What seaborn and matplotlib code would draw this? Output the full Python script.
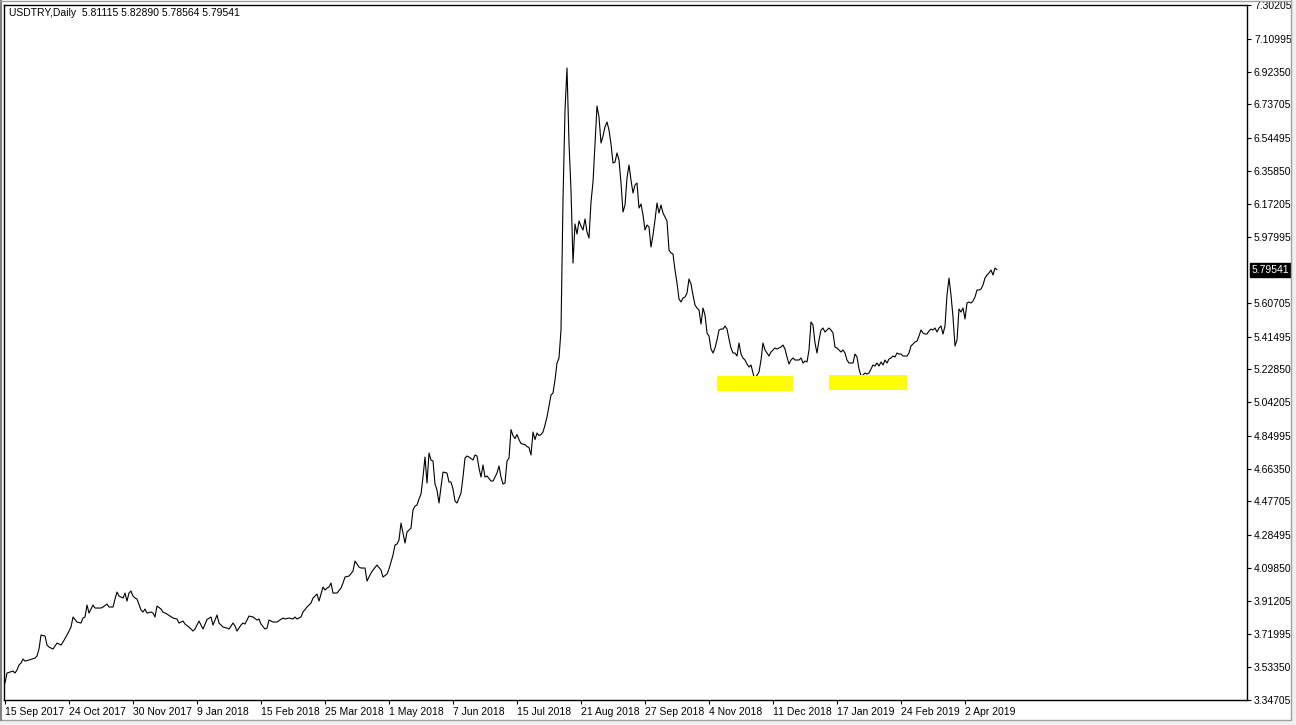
import matplotlib
matplotlib.use("Agg")
import pandas as pd
import matplotlib.pyplot as plt
import matplotlib.transforms as mtransforms
from matplotlib.patches import Rectangle
import seaborn as sns

# ── data ─────────────────────────────────────────────────────────────────────
SYMBOL = "USDTRY,Daily"
LAST_OHLC = ["5.81115", "5.82890", "5.78564", "5.79541"]
LAST_CLOSE = 5.79541

date_labels = ["15 Sep 2017", "24 Oct 2017", "30 Nov 2017", "9 Jan 2018",
               "15 Feb 2018", "25 Mar 2018", "1 May 2018", "7 Jun 2018",
               "15 Jul 2018", "21 Aug 2018", "27 Sep 2018", "4 Nov 2018",
               "11 Dec 2018", "17 Jan 2019", "24 Feb 2019", "2 Apr 2019"]
date_bars = [0, 32, 64, 96, 128, 160, 192, 224, 256, 288, 320, 352, 384, 416, 448, 480]

price_ticks = [7.30205, 7.10995, 6.92350, 6.73705, 6.54495, 6.35850, 6.17205,
               5.97995, 5.60705, 5.41495, 5.22850, 5.04205, 4.84995, 4.66350,
               4.47705, 4.28495, 4.09850, 3.91205, 3.71995, 3.53350, 3.34705]

# bar number (one per session) and close
bars = [0, 1, 4, 5, 6, 7, 8, 9, 10, 12, 15, 16, 17, 18, 20, 21, 22, 24, 25, 26,
        28, 29, 31, 33, 34, 36, 38, 39, 40, 41, 42, 44, 45, 48, 49, 51, 52, 54, 55, 56,
        57, 59, 60, 61, 62, 63, 64, 65, 66, 68, 69, 70, 71, 73, 74, 75, 76, 78, 79, 81,
        84, 86, 87, 89, 90, 92, 94, 95, 97, 99, 101,
        103, 104, 106, 107, 109, 111, 112, 114, 115, 116, 118, 119, 120, 122, 124, 126,
        127, 128, 130, 131, 132, 134, 136, 139, 140, 142, 144, 145, 146, 148, 149, 151,
        153, 154, 156, 157, 159, 160, 161, 162, 163, 164, 166, 168, 169, 170, 172, 174,
        175, 177, 178, 180, 181, 183, 184, 186, 188, 189, 191, 192, 194, 195, 196, 197,
        198, 199, 200, 201, 203, 204, 205, 206, 207, 208, 209, 210, 211, 212, 213, 214,
        215, 216, 217, 218, 219, 221, 222, 223, 224, 225, 226, 228, 229, 230, 231, 232,
        234, 235, 236, 237, 238, 239, 240, 241, 243, 244, 246, 247, 248, 249, 250, 251,
        252, 253, 254, 255, 256, 257, 258, 260, 261, 262, 263, 264, 265, 266, 267, 268,
        269, 270, 271, 272, 273, 274, 275, 276, 277,
        278, 279, 280, 281, 282, 283, 284, 285, 286, 287, 288, 289, 290, 291, 292, 293,
        294, 295, 296, 297, 298, 299, 300, 301, 302, 303, 304, 305, 306, 307, 308, 309,
        310, 311, 312, 313, 314, 315, 316, 317, 318, 319, 320, 321, 322, 323, 324, 325,
        326, 327, 328, 329, 330, 331, 332, 333, 334, 335, 336, 337,
        338, 339, 340, 341, 342, 343, 344, 345, 346, 347, 348, 349, 350, 351, 352, 353,
        354, 355, 356, 357, 358, 359, 360, 361, 362, 363, 364, 365, 366, 367, 368, 369,
        370, 371, 372, 373, 374, 375, 376, 377, 378, 379, 380, 381, 382, 383, 384, 385,
        386, 387, 388, 389, 390, 391, 392, 393, 394, 395, 396, 397, 398, 399, 400, 401,
        402, 403, 404, 405, 406, 407, 408, 409, 410, 411, 412, 413, 414, 415, 416, 417,
        418, 419, 420, 421, 422, 423, 424, 425, 426, 427, 428, 429, 430, 431, 432, 433,
        434, 435, 436, 437, 438, 439, 440, 441, 442, 443, 444, 445, 446, 447, 448, 449,
        450, 451, 452, 453, 454, 455, 456, 457, 458, 459, 460, 461, 462, 463, 464, 465,
        466, 467, 468, 469, 470, 471, 472, 473, 474, 475, 476, 477, 478, 479, 480, 481,
        482, 483, 484, 485, 486, 487, 488, 489, 490, 491, 492, 493, 494, 495, 496]

close = [3.4435, 3.5005, 3.5118, 3.5005, 3.5175, 3.5460, 3.5574, 3.5801, 3.5687, 3.5744,
         3.5858, 3.5972, 3.6370, 3.7167, 3.7110, 3.6598, 3.6484, 3.6370, 3.6541, 3.6712,
         3.6598, 3.6769, 3.7167, 3.7622, 3.8192, 3.7907, 3.7850, 3.8135, 3.8192, 3.8874,
         3.8419, 3.8874, 3.8704, 3.8704, 3.8761, 3.8931, 3.8761, 3.8761, 3.9216, 3.9614,
         3.9387, 3.9273, 3.9557, 3.9102, 3.9557, 3.9671, 3.9387, 3.9273, 3.9216, 3.8590,
         3.8476, 3.8647, 3.8419, 3.8476, 3.8419, 3.8192, 3.8818, 3.8647, 3.8476, 3.8362,
         3.8135, 3.8078, 3.7850, 3.7964, 3.7793, 3.7622, 3.7395, 3.7509, 3.7964, 3.7509,
         3.8050,
         3.8192, 3.7736, 3.8305, 3.7850, 3.7622, 3.7565, 3.7509, 3.7850, 3.7679, 3.7395,
         3.7736, 3.7850, 3.7793, 3.8248, 3.8192, 3.8021, 3.8078, 3.7793, 3.7509, 3.7565,
         3.8021, 3.7907, 3.7907, 3.8135, 3.8078, 3.8135, 3.8078, 3.8192, 3.8078, 3.8192,
         3.8476, 3.8761, 3.8988, 3.9273, 3.9500, 3.9102, 3.9899, 3.9728, 3.9842, 3.9899,
         4.0126, 3.9557, 3.9557, 3.9842, 4.0126, 4.0468, 4.0525, 4.0809, 4.1378, 4.1037,
         4.0980, 4.0980, 4.0240, 4.0695, 4.0866, 4.1150, 4.0866, 4.0468, 4.0638, 4.0923,
         4.1720, 4.2289, 4.2346, 4.2574,
         4.3541, 4.2972, 4.2403, 4.3029, 4.3256, 4.4281, 4.4508, 4.4565, 4.4907, 4.5191,
         4.6159, 4.7297, 4.5817, 4.7525, 4.7126, 4.7069, 4.5760, 4.5419, 4.4679, 4.5589,
         4.6443, 4.6386, 4.5874, 4.5874, 4.5475, 4.4793, 4.4679, 4.5248, 4.6159, 4.7240,
         4.7354, 4.7297, 4.7126, 4.7411, 4.7354, 4.6671, 4.6159, 4.6842, 4.6159, 4.6216,
         4.5931, 4.5931, 4.6386, 4.6785, 4.6159, 4.5760, 4.5817, 4.7069, 4.7240, 4.8858,
         4.8517, 4.8346, 4.8574, 4.8289, 4.8062, 4.8005, 4.7891, 4.7834, 4.7411, 4.8720,
         4.8289, 4.8663, 4.8517, 4.8574, 4.8720, 4.9118, 4.9573, 5.0199, 5.0825, 5.0939,
         5.1679, 5.2647, 5.2931,
         5.4525, 6.1923, 6.7045, 6.9435, 6.5167, 6.2492, 5.8338, 6.0557, 5.9988, 6.0728,
         6.0443, 6.0216, 6.0842, 6.0102, 5.9760, 6.1809, 6.2947, 6.5167, 6.7273, 6.6647,
         6.5167, 6.5565, 6.6078, 6.6362, 6.5907, 6.5110, 6.4029, 6.4086, 6.4598, 6.4200,
         6.2890, 6.1240, 6.1639, 6.3175, 6.3915, 6.3061, 6.2321, 6.2776, 6.2890, 6.1468,
         6.1696, 6.1069, 6.0216, 6.0500, 6.0386, 5.9248, 5.9931, 6.0785, 6.1753, 6.1183,
         6.1639, 6.1183, 6.0956, 6.0728, 5.9077, 5.8907, 5.8850, 5.7939, 5.7200, 5.6289,
         5.6118, 5.6346, 5.6403, 5.6630, 5.7427, 5.7143, 5.6516, 5.5947, 5.5777, 5.5663,
         5.4866, 5.5777, 5.5379, 5.4354, 5.4184, 5.3444, 5.3216, 5.3501, 5.3956, 5.4525,
         5.4581, 5.4581, 5.4752, 5.4581, 5.4013, 5.3501, 5.3216, 5.3216, 5.3046, 5.3785,
         5.3159, 5.2932, 5.2818, 5.2591, 5.2420, 5.2534, 5.2078, 5.1679, 5.1964, 5.2135,
         5.2818, 5.3785, 5.3387, 5.3216, 5.3046, 5.3273, 5.3387, 5.3501, 5.3444, 5.3501,
         5.3558, 5.3671, 5.3444, 5.2989, 5.2591, 5.2818, 5.2932, 5.2818, 5.2818, 5.2818,
         5.2932, 5.2647, 5.2761, 5.2705, 5.3387, 5.4980, 5.4809, 5.3785, 5.3216, 5.3956,
         5.4525, 5.4638, 5.4411, 5.4525, 5.4638, 5.4525, 5.4354, 5.3558, 5.3501, 5.3387,
         5.3273, 5.3387, 5.3216, 5.2818, 5.2647, 5.2647, 5.2647, 5.3159, 5.2989, 5.2306,
         5.1907, 5.1964, 5.2078, 5.2021, 5.2078, 5.2306, 5.2534, 5.2477, 5.2647, 5.2477,
         5.2705, 5.2534, 5.2818, 5.2647, 5.2875, 5.2932, 5.3046, 5.2989, 5.3216, 5.3159,
         5.3159, 5.3046, 5.3046, 5.3046, 5.3216, 5.3615, 5.3728, 5.3842, 5.3899, 5.4184,
         5.4525, 5.4354, 5.4297, 5.4297, 5.4468, 5.4581, 5.4525, 5.4638, 5.4411, 5.4638,
         5.4752, 5.4297, 5.4752, 5.6516, 5.7484, 5.6516, 5.5265, 5.3615, 5.3956, 5.5721,
         5.5550, 5.5777, 5.5151, 5.6061, 5.6118, 5.6061, 5.6175, 5.6403, 5.6801, 5.6801,
         5.6858, 5.7086, 5.7484, 5.7655, 5.7769, 5.7939, 5.7655, 5.8053, 5.79541]

# highlighted support zones (bar span, price span)
zones = [(356, 394, 5.105, 5.192), (412, 451, 5.111, 5.197)]

# ── figure ───────────────────────────────────────────────────────────────────
sns.set_theme(style="white")
plt.rcParams["font.family"] = ["Liberation Sans", "DejaVu Sans"]
FS = 7.5

W, H = 1296, 725
fig = plt.figure(figsize=(W / 100, H / 100), dpi=100, facecolor="white")
ax = fig.add_axes([4 / W, 25 / H, (1247 - 4) / W, (700 - 5) / H])

df = pd.DataFrame({"bar": bars, "close": close})
sns.lineplot(data=df, x="bar", y="close", ax=ax, color="black",
             linewidth=0.8, estimator=None, sort=False)

for b0, b1, p0, p1 in zones:
    ax.add_patch(Rectangle((b0, p0), b1 - b0, p1 - p0, facecolor="#ffff00",
                           edgecolor="none", zorder=3))

ax.set_xlim(-0.5, 621)
ax.set_ylim(price_ticks[-1], price_ticks[0])
ax.set_xlabel("")
ax.set_ylabel("")

ax.set_xticks(date_bars)
ax.set_xticklabels(date_labels, ha="left", fontsize=FS)
ax.yaxis.tick_right()
ax.set_yticks(price_ticks)
ax.set_yticklabels([f"{p:.5f}" for p in price_ticks], fontsize=FS)
ax.tick_params(axis="both", direction="out", length=3, width=0.8,
               colors="black", pad=2, bottom=True, right=True, left=False)

for s in ax.spines.values():
    s.set_visible(True)
    s.set_color("black")
    s.set_linewidth(1.0)

# symbol / OHLC caption
ax.text(5 / (1243), 1 - 8 / 695, f"{SYMBOL}  " + " ".join(LAST_OHLC),
        transform=ax.transAxes, ha="left", va="center", fontsize=FS, color="black")

# current price box on the scale
tr = mtransforms.blended_transform_factory(ax.transAxes, ax.transData)
ax.text(1.004, LAST_CLOSE, f"{LAST_CLOSE:.5f}", transform=tr, ha="left", va="center",
        fontsize=FS, color="white", clip_on=False,
        bbox=dict(boxstyle="square,pad=0.2", facecolor="black", edgecolor="black"))

# window frame
fig.add_artist(Rectangle((0, 0), 1, 5 / H, transform=fig.transFigure,
                         facecolor="#f0f0f0", edgecolor="none"))
fig.add_artist(Rectangle((1291 / W, 0), 5 / W, 1, transform=fig.transFigure,
                         facecolor="#f0f0f0", edgecolor="none"))
fig.add_artist(plt.Line2D([1291 / W, 1291 / W], [5 / H, 1], transform=fig.transFigure,
                          color="#a0a0a0", linewidth=1))
fig.add_artist(plt.Line2D([0, 1291 / W], [5 / H, 5 / H], transform=fig.transFigure,
                          color="#a0a0a0", linewidth=1))
fig.add_artist(plt.Line2D([1 / W, 1 / W], [5 / H, 1], transform=fig.transFigure,
                          color="#808080", linewidth=1.5))
fig.add_artist(plt.Line2D([0, 1291 / W], [1 - 1 / H, 1 - 1 / H], transform=fig.transFigure,
                          color="#a0a0a0", linewidth=1))

fig.savefig("out.png", dpi=100, facecolor="white")
plt.close(fig)
